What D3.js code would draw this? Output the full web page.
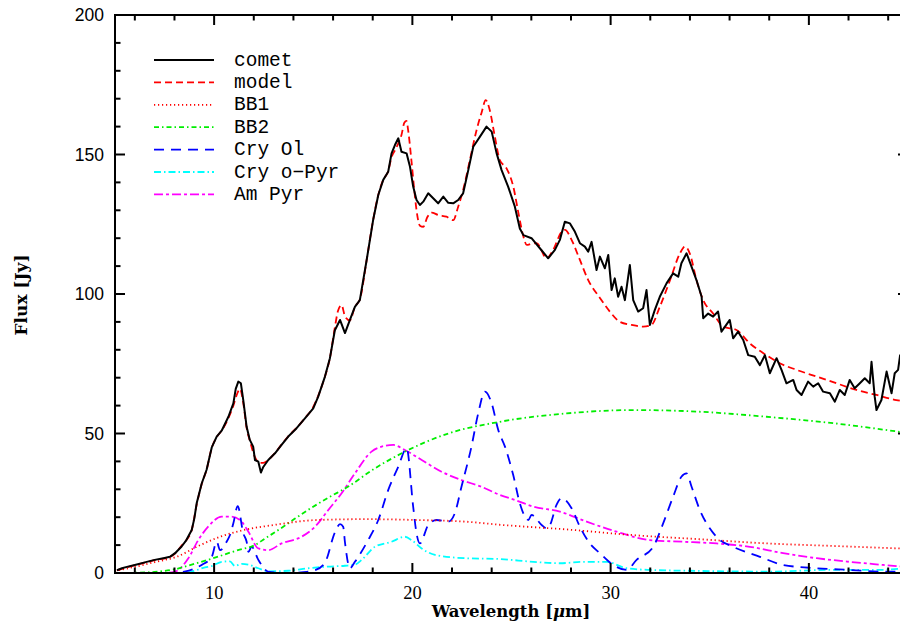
<!DOCTYPE html>
<html>
<head>
<meta charset="utf-8">
<script src="https://cdn.jsdelivr.net/npm/d3@7"></script>
<style>
  body { margin: 0; background: #fff; }
  svg { display: block; }
</style>
</head>
<body>
<svg id="chart" width="900" height="628"></svg>
<script>
// comet spectrum
const cometWl = [5.1, 5.35, 5.6, 6.0, 6.5, 7.0, 7.5, 7.77, 8.03, 8.36, 8.6, 8.87, 9.0, 9.12, 9.37, 9.62, 9.88, 10.13, 10.38, 10.72, 10.97,
  11.09, 11.22, 11.35, 11.47, 11.64, 11.8, 11.97, 12.06, 12.23, 12.36, 12.48, 12.73, 13.07, 13.4, 13.74, 14.16, 14.58, 15.0, 15.25, 15.59,
  15.84, 16.09, 16.35, 16.6, 16.85, 17.1, 17.35, 17.69, 18.02, 18.28, 18.53, 18.78, 18.95, 19.12, 19.29, 19.45, 19.71, 19.88, 20.04, 20.21,
  20.38, 20.55, 20.8, 21.05, 21.3, 21.56, 21.81, 22.06, 22.31, 22.56, 22.82, 23.07, 23.41, 23.74, 24.0, 24.25, 24.5, 24.83, 25.17, 25.42,
  25.6, 26.01, 26.43, 26.85, 27.19, 27.44, 27.69, 27.95, 28.2, 28.45, 28.7, 28.87, 29.04, 29.29, 29.46, 29.71, 29.88, 30.05, 30.21, 30.38,
  30.55, 30.72, 30.97, 31.14, 31.39, 31.64, 31.81, 31.98, 32.23, 32.48, 32.82, 33.15, 33.41, 33.57, 33.83, 34.08, 34.33, 34.59, 34.67, 34.92,
  35.17, 35.42, 35.59, 36.01, 36.18, 36.43, 36.69, 36.94, 37.27, 37.53, 37.78, 38.03, 38.37, 38.62, 38.87, 39.21, 39.38, 39.63, 39.96, 40.22,
  40.47, 40.72, 41.06, 41.31, 41.56, 41.81, 42.06, 42.31, 42.57, 42.82, 43.07, 43.16, 43.32, 43.41, 43.66, 43.92, 44.17, 44.33, 44.5, 44.6, 45.0];
const cometFlux = [1.0, 1.7, 2.2, 2.9, 3.8, 4.7, 5.4, 5.8, 7.1, 9.5, 11.8, 15.4, 19.5, 25, 32, 37, 45, 48.9, 51, 56, 60.8,
  66, 68.6, 68, 62, 52.4, 47.7, 45.3, 40.5, 39.9, 36, 38, 40.5, 42.9, 45.9, 48.9, 51.9, 55.4, 59, 63.2, 70.4,
  77, 87, 90.7, 86, 90.7, 95.4, 97.8, 112, 126.5, 135.5, 140.9, 143.8, 150.4, 153.4, 155.8, 151, 150.4, 145.6, 138.5, 133.7,
  131.9, 133.1, 136.1, 134.3, 132.5, 134.9, 132.7, 132.5, 133.7, 136.1, 144.4, 152.8, 156.4, 160, 158.2, 150.4, 144.4, 138.5, 131.3, 123.5,
  121.1, 120, 116.4, 112.8, 115.8, 119.4, 125.9, 125.3, 122.3, 118.2, 117, 115.2, 118.7, 108.6, 113.4, 109.2, 114, 101.4, 105.6, 99,
  102.6, 97.8, 110.4, 97.8, 93.7, 94.9, 101.4, 88.9, 94.3, 99, 103.8, 107.4, 106.2, 111, 114.6, 109.8, 105, 99, 91.3, 93,
  91.9, 93.7, 86.5, 90.7, 84.1, 86.5, 83.5, 78.1, 77.5, 74.5, 78.1, 71.6, 77, 72.8, 68, 69.2, 65.6, 63.8, 68.6, 66.8,
  68, 65, 64.4, 61.4, 65.6, 63.8, 69.2, 66.2, 68, 69.8, 68, 75.7, 63.2, 58.4, 62, 72.2, 64.4, 71.6, 72.8, 78, 80];

// total model
const modelWl = [5.1, 6, 7, 7.77, 8.03, 8.36, 8.6, 8.87, 9.12, 9.37, 9.62, 9.88, 10.13, 10.38, 10.72, 10.97, 11.15, 11.3, 11.47, 11.64,
  11.8, 12.06, 12.3, 12.48, 12.73, 13.07, 13.4, 13.74, 14.16, 14.58, 15.0, 15.25, 15.59, 15.84, 16.09, 16.25, 16.43, 16.6, 16.85, 17.1,
  17.35, 17.69, 18.02, 18.28, 18.53, 18.78, 18.95, 19.12, 19.29, 19.45, 19.6, 19.7, 19.8, 19.95, 20.1, 20.21, 20.38, 20.55, 20.75, 20.97,
  21.3, 21.72, 22.06, 22.31, 22.56, 22.9, 23.24, 23.49, 23.7, 23.9, 24.16, 24.41, 24.75, 25.09, 25.35, 25.6, 25.77, 26.0, 26.27, 26.77,
  27.1, 27.53, 27.7, 28.03, 28.45, 28.87, 29.46, 29.96, 30.47, 31.06, 31.64, 32.06, 32.48, 33.0, 33.5, 33.75, 34.0, 34.33, 34.67, 35.17,
  35.68, 36.35, 37.02, 37.86, 38.53, 39.38, 40.39, 41.39, 42.4, 43.41, 44.41, 45];
const modelFlux = [1.0, 2.8, 4.6, 5.8, 7, 9.8, 11.8, 15.4, 24.5, 31.8, 37, 44.8, 48.7, 51, 55.5, 60, 64, 66, 61, 52,
  47.5, 41.5, 39.5, 39.5, 40.5, 43, 46, 49, 52, 55.5, 59.5, 63.5, 70.4, 77, 88, 94, 96, 92, 90.5, 95.4,
  98, 112, 126.5, 135.5, 140.9, 144, 149, 151.5, 154, 157, 161.5, 162, 158, 148, 137, 130, 124.5, 124.1, 127.5, 129.2,
  128.3, 127.7, 126.5, 131.3, 137.3, 148, 158.8, 165, 169.5, 166, 156.4, 148, 145, 138.5, 129, 120.6, 117.6, 118, 118.2, 112.8,
  115.8, 122.3, 123, 119.4, 112.2, 105, 98.6, 93.7, 90, 88.9, 88.3, 88.9, 95.4, 105, 114.6, 117, 114.4, 105, 97.8, 93,
  88.3, 87.1, 82.3, 78.1, 75.2, 72.8, 70.4, 68, 65.6, 63.8, 62, 61.3];

// components
const bb1Wl = [5, 6, 7, 8.1, 9.3, 10.3, 11.5, 13, 15.2, 17.7, 20.2, 22.7, 24.4, 27.8, 31.1, 34.5, 37.9, 41.2, 44.6, 45];
const bb1Flux = [0.8, 2.2, 3.9, 5.8, 10, 13, 15.4, 17.2, 19, 19.3, 19, 18.4, 17.3, 15.6, 13.6, 12.1, 10.6, 9.7, 8.8, 8.7];

const bb2Wl = [5, 6, 7, 8, 8.87, 10.04, 11.2, 12.06, 12.56, 13.74, 14.08, 15.76, 16.77, 18, 19.46, 21.81, 24.41, 27.78, 31.14, 34.5, 37.86, 41.23, 44.58, 45];
const bb2Flux = [0, 0.1, 0.4, 1.3, 3, 5.5, 8.2, 10, 12.3, 17.8, 19.5, 27, 31, 37, 42.9, 50, 54.2, 57.2, 58.4, 57.8, 56, 53.7, 50.6, 50.2];

const olWl = [5, 8, 8.5, 9.37, 9.88, 10.13, 10.3, 10.63, 10.8, 10.97, 11.19, 11.47, 11.64, 11.73, 11.89, 12.23, 12.73, 13.5, 14.5, 15.09,
  15.59, 16.09, 16.35, 16.51, 16.6, 16.85, 17.1, 17.77, 18.28, 18.78, 19.29, 19.71, 20.04, 20.21, 20.38, 20.8, 21.22, 21.81, 22.14, 22.48,
  22.98, 23.32, 23.66, 24.0, 24.33, 24.67, 25.09, 25.42, 25.68, 25.85, 26.01, 26.52, 26.77, 26.94, 27.27, 27.53, 28.03, 28.45, 28.95, 29.46,
  30.13, 30.8, 31.31, 32.15, 32.65, 33.15, 33.57, 33.83, 34.08, 34.5, 35.0, 35.42, 36.18, 37.53, 38.7, 40.39, 42.06, 43.7, 45];
const olFlux = [0, 0, 0.5, 2.9, 5.8, 11.2, 8.2, 11.2, 13.6, 17.8, 24, 14.2, 11.2, 7.6, 9.4, 4.7, 0.5, 0, 0.3, 1,
  3.7, 14.5, 17.5, 16.6, 11, 1.7, 4, 11.8, 19, 29.7, 38.1, 44.7, 23.8, 14.2, 10.6, 17.2, 19, 18.4, 21.4, 31,
  45.3, 57.2, 65, 60.8, 51.3, 45.3, 35, 25, 20.2, 19, 20.8, 17.2, 16, 17.2, 24.4, 26.8, 23.2, 16.6, 10.6, 7.1,
  2.9, 1.1, 4.7, 9.4, 17.8, 27.3, 34.5, 35.7, 31, 22.6, 16, 12.4, 9.4, 5.8, 2.9, 1.7, 1.1, 0.5, 0.5];

const opyrWl = [5, 8.5, 8.87, 9.54, 9.88, 10.38, 10.8, 11.05, 11.39, 11.73, 12.23, 12.73, 13.74, 14.75, 15.76, 16.6, 17.1, 17.44, 18.11, 18.95,
  19.62, 19.96, 20.47, 21.14, 22.65, 24.4, 26.1, 27.44, 28.62, 29.79, 30.8, 31.98, 34, 38, 41, 43.5, 45];
const opyrFlux = [0, 0, 0.5, 2, 2.5, 4, 4.2, 2.5, 3.3, 3, 1.7, 0.6, 0.8, 1.7, 2.3, 2.6, 3, 4.7, 9.4, 11.2,
  13, 11.8, 8.8, 6.5, 5.3, 5, 4, 3.5, 4, 4, 1.7, 1.1, 0.8, 0.5, 1.1, 1.1, 1.8];

const apyrWl = [5, 7.5, 8.03, 8.7, 9.2, 9.7, 10.38, 10.88, 11.39, 11.73, 12.23, 12.73, 13.4, 14.41, 15.09, 15.76, 16.43, 17.1, 17.94, 18.45,
  19.04, 19.62, 20.47, 21.47, 22.48, 23.49, 24.41, 25.17, 26.1, 27.44, 28.79, 30.3, 31.98, 33.66, 35.34, 37.02, 38.7, 40.39, 42.06, 43.74, 45];
const apyrFlux = [0, 0, 0.5, 5.3, 11.8, 16.6, 20.2, 20.2, 18.4, 14.8, 8.8, 8.2, 10.6, 13, 16.6, 22.6, 28.6, 35.7, 43.5, 45.3,
  45.9, 44.1, 40.5, 36.3, 33.3, 30.9, 28, 26.2, 23.8, 22, 18.4, 14.8, 11.8, 11.2, 10.6, 9.4, 7.1, 5.3, 4, 2.9, 2.1];

const xTicks = [10, 20, 30, 40];
const yTicks = [0, 50, 100, 150, 200];

const series = [
  { name: "comet",       wl: cometWl, flux: cometFlux, color: "#000000", dash: null,              curve: d3.curveLinear },
  { name: "model",       wl: modelWl, flux: modelFlux, color: "#ff0000", dash: "7,4",             curve: d3.curveMonotoneX },
  { name: "BB1",         wl: bb1Wl,   flux: bb1Flux,   color: "#ff0000", dash: "1.2,2.8",         curve: d3.curveMonotoneX },
  { name: "BB2",         wl: bb2Wl,   flux: bb2Flux,   color: "#00ee00", dash: "5,3,1.5,3",       curve: d3.curveMonotoneX },
  { name: "Cry Ol",      wl: olWl,    flux: olFlux,    color: "#0000ff", dash: "10,7",            curve: d3.curveMonotoneX },
  { name: "Cry o\u2212Pyr", wl: opyrWl, flux: opyrFlux, color: "#00ffff", dash: "7,3,1.5,3",     curve: d3.curveMonotoneX },
  { name: "Am Pyr",      wl: apyrWl,  flux: apyrFlux,  color: "#ff00ff", dash: "9,3,3,3",         curve: d3.curveMonotoneX }
];

const svg = d3.select("#chart");
const pLeft = 115, pRight = 908, pTop = 15, pBottom = 573;

const x = d3.scaleLinear().domain([5, 45]).range([pLeft, pRight]);
const y = d3.scaleLinear().domain([0, 200]).range([pBottom, pTop]);

const plot = svg.append("g");
plot.append("clipPath").attr("id", "clip")
  .append("rect").attr("x", pLeft).attr("y", pTop).attr("width", pRight - pLeft).attr("height", pBottom - pTop);

// draw components first, comet and model on top
const order = [6, 5, 4, 3, 2, 1, 0];
order.forEach(i => {
  const s = series[i];
  const pts = s.wl.map((w, k) => [w, s.flux[k]]);
  const line = d3.line().x(d => x(d[0])).y(d => y(d[1])).curve(s.curve);
  plot.append("path")
    .attr("d", line(pts))
    .attr("clip-path", "url(#clip)")
    .attr("fill", "none")
    .attr("stroke", s.color)
    .attr("stroke-width", i === 0 ? 2 : 1.8)
    .attr("stroke-linejoin", "round")
    .attr("stroke-dasharray", s.dash);
});

// frame
const frame = svg.append("g").attr("stroke", "#000").attr("fill", "none");
frame.append("rect").attr("x", pLeft).attr("y", pTop).attr("width", pRight - pLeft).attr("height", pBottom - pTop)
  .attr("stroke-width", 2);

// minor + major ticks (inward, all four sides)
const xMinor = d3.range(6, 45, 2).filter(v => v % 10 !== 0);
const yMinor = d3.range(10, 200, 10).filter(v => v % 50 !== 0);
const tick = (x1, y1, x2, y2) => frame.append("line").attr("x1", x1).attr("y1", y1).attr("x2", x2).attr("y2", y2).attr("stroke-width", 2);
xTicks.forEach(v => { tick(x(v), pBottom, x(v), pBottom - 10); tick(x(v), pTop, x(v), pTop + 10); });
xMinor.forEach(v => { tick(x(v), pBottom, x(v), pBottom - 5.5); tick(x(v), pTop, x(v), pTop + 5.5); });
yTicks.forEach(v => { tick(pLeft, y(v), pLeft + 10, y(v)); tick(pRight, y(v), pRight - 10, y(v)); });
yMinor.forEach(v => { tick(pLeft, y(v), pLeft + 5.5, y(v)); tick(pRight, y(v), pRight - 5.5, y(v)); });

// tick labels
svg.append("g").selectAll("text").data(yTicks).join("text")
  .attr("x", 104).attr("y", d => y(d) + 6)
  .attr("text-anchor", "end")
  .attr("font-family", "Liberation Sans, Arial, sans-serif")
  .attr("font-size", 17.5)
  .text(d => d);

svg.append("g").selectAll("text").data(xTicks).join("text")
  .attr("x", d => x(d)).attr("y", 599)
  .attr("text-anchor", "middle")
  .attr("font-family", "Liberation Serif, Times New Roman, serif")
  .attr("font-size", 18.5)
  .text(d => d);

// axis titles
svg.append("text")
  .attr("x", 511).attr("y", 617)
  .attr("text-anchor", "middle")
  .attr("font-family", "DejaVu Serif, serif")
  .attr("font-weight", "bold")
  .attr("font-size", 16.5)
  .html("Wavelength [<tspan font-style=\"italic\">\u03bc</tspan>m]");

svg.append("text")
  .attr("transform", "translate(27,295) rotate(-90)")
  .attr("text-anchor", "middle")
  .attr("font-family", "DejaVu Serif, serif")
  .attr("font-weight", "bold")
  .attr("font-size", 17)
  .text("Flux [Jy]");

// legend
const leg = svg.append("g");
series.forEach((s, i) => {
  const yy = 60 + i * 22.4;
  leg.append("line")
    .attr("x1", 154).attr("x2", 214).attr("y1", yy).attr("y2", yy)
    .attr("stroke", s.color).attr("stroke-width", i === 0 ? 2 : 1.8)
    .attr("stroke-dasharray", s.dash);
  leg.append("text")
    .attr("x", 234).attr("y", yy + 5.5)
    .attr("font-family", "Liberation Mono, Courier New, monospace")
    .attr("font-size", 19.5)
    .text(s.name);
});
</script>
</body>
</html>
